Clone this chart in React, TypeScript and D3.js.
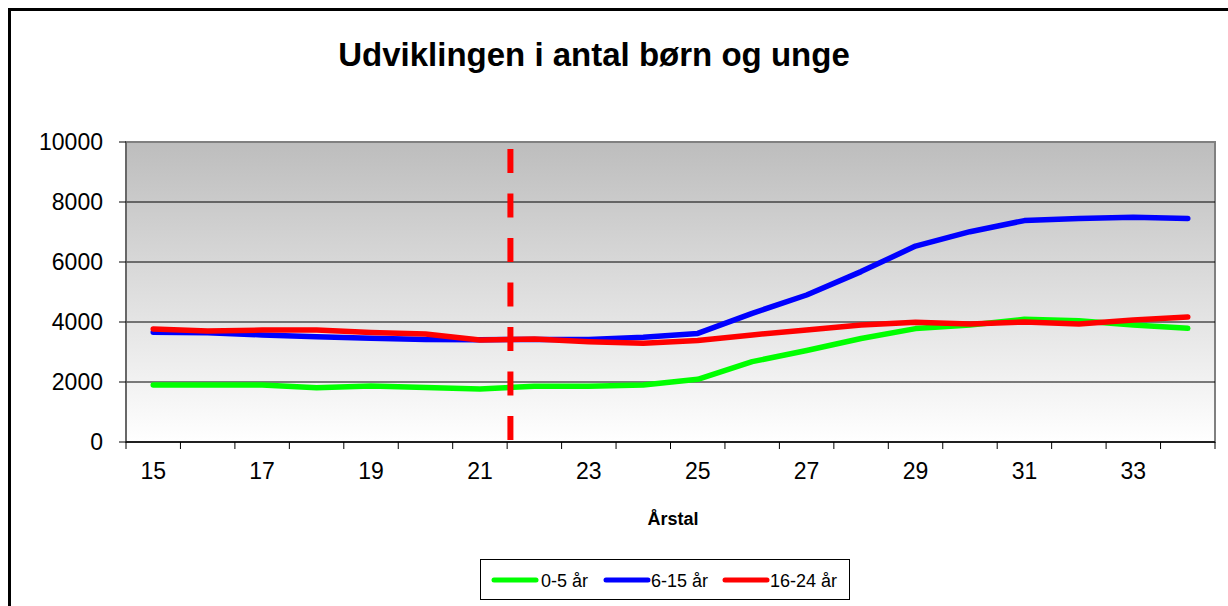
import React from 'react';
import * as d3 from 'd3';

const years = ['15', '16', '17', '18', '19', '20', '21', '22', '23', '24', '25', '26', '27', '28', '29', '30', '31', '32', '33', '34'];
const age0to5 = [1900, 1900, 1900, 1810, 1870, 1820, 1770, 1860, 1860, 1900, 2090, 2680, 3050, 3450, 3780, 3900, 4090, 4040, 3900, 3790];
const age6to15 = [3660, 3640, 3570, 3510, 3460, 3420, 3410, 3420, 3420, 3490, 3620, 4290, 4900, 5680, 6530, 7010, 7380, 7450, 7490, 7450];
const age16to24 = [3770, 3700, 3730, 3730, 3650, 3600, 3400, 3430, 3345, 3290, 3380, 3570, 3730, 3900, 3990, 3930, 4000, 3930, 4070, 4170];
const yTicks = [0, 2000, 4000, 6000, 8000, 10000];
const labelledYears = ['15', '17', '19', '21', '23', '25', '27', '29', '31', '33'];
const dividerAfter = '21';

const series = [
  { name: '0-5 år', values: age0to5, color: '#00ff00' },
  { name: '6-15 år', values: age6to15, color: '#0000ff' },
  { name: '16-24 år', values: age16to24, color: '#ff0000' },
];

const W = 1228;
const H = 606;
const left = 126;
const right = 1215;
const top = 142;
const bottom = 442;
const font = 'Arial, "Liberation Sans", sans-serif';

export default function App() {
  const x = d3.scaleBand<string>().domain(years).range([left, right]).padding(0);
  const y = d3.scaleLinear().domain([0, 10000]).range([bottom, top]);
  const cx = (d: string) => (x(d) ?? 0) + x.bandwidth() / 2;

  const line = d3.line<number>()
    .x((_, i) => cx(years[i]))
    .y(v => y(v));

  const divX = (x(dividerAfter) ?? 0) + x.step() * 1.06;

  const legendItems = [
    { lx: 492, tx: 541 },
    { lx: 604, tx: 651 },
    { lx: 723, tx: 770 },
  ];

  return (
    <svg width={W} height={H} style={{ position: 'absolute', left: 0, top: 0, background: '#fff' }}>
      <defs>
        <linearGradient id="plotBg" x1="0" y1="0" x2="0" y2="1">
          <stop offset="0" stopColor="#bdbdbd" />
          <stop offset="1" stopColor="#ffffff" />
        </linearGradient>
      </defs>

      {/* outer frame */}
      <path d={`M9.5,${H + 5} V9.5 H${W + 5}`} fill="none" stroke="#000" strokeWidth={3} />

      <text x={594} y={66} textAnchor="middle" fontFamily={font} fontWeight="bold" fontSize={33}>
        Udviklingen i antal børn og unge
      </text>

      <rect x={left} y={top} width={right - left} height={bottom - top} fill="url(#plotBg)" stroke="#808080" strokeWidth={2} />

      {yTicks.filter(t => t > 0 && t < 10000).map(t => (
        <line key={t} x1={left} x2={right} y1={y(t)} y2={y(t)} stroke="#000" strokeWidth={1} />
      ))}

      {/* y axis */}
      <line x1={left} x2={left} y1={top} y2={bottom} stroke="#606060" strokeWidth={1.5} />
      {yTicks.map(t => (
        <g key={t}>
          <line x1={left - 7} x2={left} y1={y(t)} y2={y(t)} stroke="#000" />
          <text x={103} y={y(t) + 8} textAnchor="end" fontFamily={font} fontSize={23}>{t}</text>
        </g>
      ))}

      {/* x axis */}
      <line x1={left} x2={right} y1={bottom} y2={bottom} stroke="#000" strokeWidth={1.5} />
      {years.map(d => (
        <line key={d} x1={x(d)} x2={x(d)} y1={bottom} y2={bottom + 7} stroke="#000" />
      ))}
      <line x1={right} x2={right} y1={bottom} y2={bottom + 7} stroke="#000" />
      {labelledYears.map(d => (
        <text key={d} x={cx(d)} y={479} textAnchor="middle" fontFamily={font} fontSize={23}>{d}</text>
      ))}
      <text x={673} y={525} textAnchor="middle" fontFamily={font} fontWeight="bold" fontSize={18}>Årstal</text>

      {series.map(s => (
        <path key={s.name} d={line(s.values) ?? ''} fill="none" stroke={s.color} strokeWidth={5.5} strokeLinejoin="round" strokeLinecap="round" />
      ))}

      <line x1={divX} x2={divX} y1={149} y2={bottom} stroke="#ff0000" strokeWidth={6} strokeDasharray="24 20.5" />

      {/* legend */}
      <rect x={480.5} y={559.5} width={369} height={40} fill="#fff" stroke="#000" strokeWidth={1} />
      {series.map((s, i) => (
        <g key={s.name}>
          <line x1={legendItems[i].lx + 2} x2={legendItems[i].lx + 44} y1={580} y2={580} stroke={s.color} strokeWidth={5} strokeLinecap="round" />
          <text x={legendItems[i].tx} y={587} fontFamily={font} fontSize={18}>{s.name}</text>
        </g>
      ))}
    </svg>
  );
}
